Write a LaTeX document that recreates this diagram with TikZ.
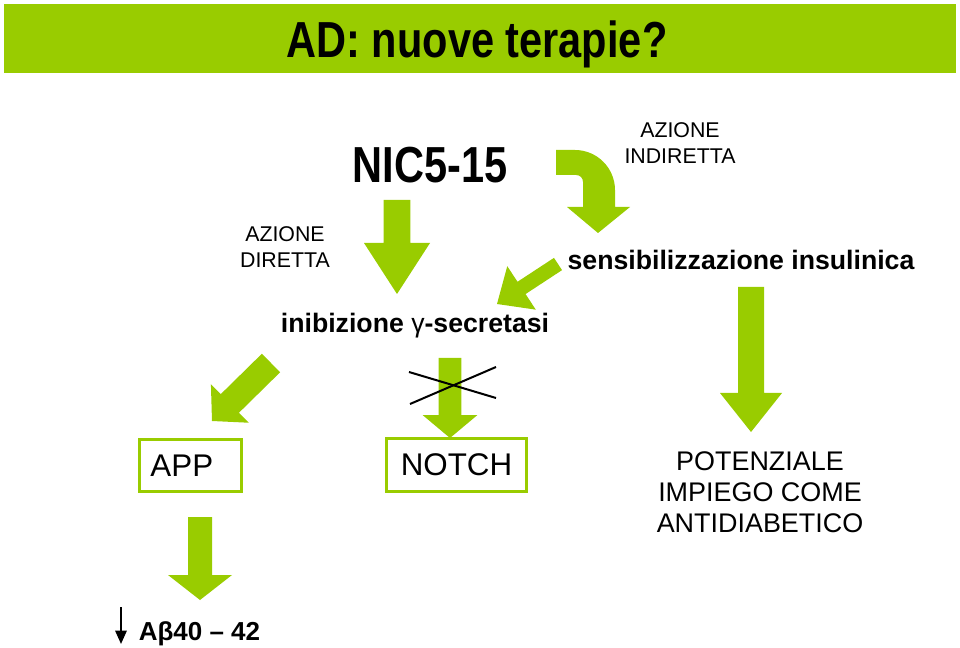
\documentclass[tikz,border=0pt]{standalone}
\usepackage{fontspec}
\setmainfont{Liberation Sans}
\newfontfamily\narrowfont[FakeStretch=0.82]{Liberation Sans}
\usetikzlibrary{calc,arrows.meta}
\definecolor{adgreen}{HTML}{99CC00}

\tikzset{
  headline/.style={anchor=base,inner sep=0pt,font=\narrowfont\bfseries\fontsize{38}{40}\selectfont},
  azione/.style={align=center,inner sep=0pt,font=\fontsize{16}{19.5}\selectfont},
  effect/.style={anchor=base,inner sep=0pt,font=\bfseries\fontsize{20}{24}\selectfont},
  target/.style={draw=adgreen,line width=2.25pt,inner sep=0pt,font=\fontsize{23.5}{28}\selectfont},
  outcome/.style={align=center,inner sep=0pt,font=\fontsize{20.2}{23.25}\selectfont},
}

% filled green block arrow: from, to, half shaft, half head, head length
\newcommand{\blockarrow}[5]{%
  \coordinate (hb) at ($(#2)!#5!(#1)$);
  \fill[adgreen] ($(#1)!#3!90:(#2)$) -- ($(hb)!#3!90:(#2)$) -- ($(hb)!#4!90:(#2)$) -- (#2)
    -- ($(hb)!#4!-90:(#2)$) -- ($(hb)!#3!-90:(#2)$) -- ($(#1)!#3!-90:(#2)$) -- cycle;}

\begin{document}
\begin{tikzpicture}[x=0.75pt,y=-0.75pt]
    \useasboundingbox (0,0) rectangle (960,648);
    \fill[adgreen] (4,4) rectangle (956,73);
    \node[headline] (title) at (477,58) {AD: nuove terapie?};

    \node[headline] (nic) at (430,183) {NIC5-15};
    \node[azione] (indiretta) at (680,143.5) {AZIONE\\INDIRETTA};
    \node[azione] (diretta) at (285,247) {AZIONE\\DIRETTA};
    \node[effect] (insulina) at (741,270) {sensibilizzazione insulinica};
    \node[effect] (secretasi) at (415,333) {inibizione {\mdseries γ}-secretasi};

    \node[target,minimum width=76.5pt,minimum height=39.4pt] (app) at (190.5,465.5) {APP\kern13pt};
    \node[target,minimum width=105pt,minimum height=39.75pt] (notch) at (456.5,465) {NOTCH};
    \node[outcome] (impiego) at (760,492) {POTENZIALE\\IMPIEGO COME\\ANTIDIABETICO};
    \node[effect,font=\bfseries\fontsize{19.5}{23}\selectfont] (abeta) at (199.5,640) {Aβ40 – 42};

    % bent arrow towards the indirect action
    \fill[adgreen] (556,150) -- (575,150) .. controls (597,150) and (615,168) .. (615,190)
        -- (615,207) -- (630,207) -- (598,233) -- (567,207) -- (583,207) -- (583,182)
        .. controls (583,178) and (580,175) .. (576,175) -- (556,175) -- cycle;

    \coordinate (nicA) at (397,200);       \coordinate (nicB) at (397,294);
    \coordinate (insA) at (558,264);       \coordinate (insB) at (497,304);
    \coordinate (dirA) at (271,363);       \coordinate (dirB) at (212,421);
    \coordinate (notA) at (450,358);       \coordinate (notB) at (450,438);
    \coordinate (antA) at (751,287);       \coordinate (antB) at (751,432);
    \coordinate (appA) at (200,517);       \coordinate (appB) at (200,600);
    \blockarrow{nicA}{nicB}{10.1pt}{24.75pt}{38.25pt}
    \blockarrow{insA}{insB}{5.5pt}{19.5pt}{22pt}
    \blockarrow{dirA}{dirB}{9.75pt}{20.25pt}{18.75pt}
    \blockarrow{notA}{notB}{8.6pt}{20.6pt}{17.25pt}
    \blockarrow{antA}{antB}{9.75pt}{23.25pt}{29.25pt}
    \blockarrow{appA}{appB}{9pt}{24pt}{18.75pt}

    % blocked pathway
    \draw[line width=1.5pt] (409,372) -- (496,398);
    \draw[line width=1.5pt] (410,404) -- (496,367);

    \coordinate (down1) at (121,607);
    \coordinate (down2) at (121,644);
    \draw[line width=1.5pt,-{Triangle[length=10pt,width=8.5pt]}] (down1) -- (down2);
\end{tikzpicture}
\end{document}
